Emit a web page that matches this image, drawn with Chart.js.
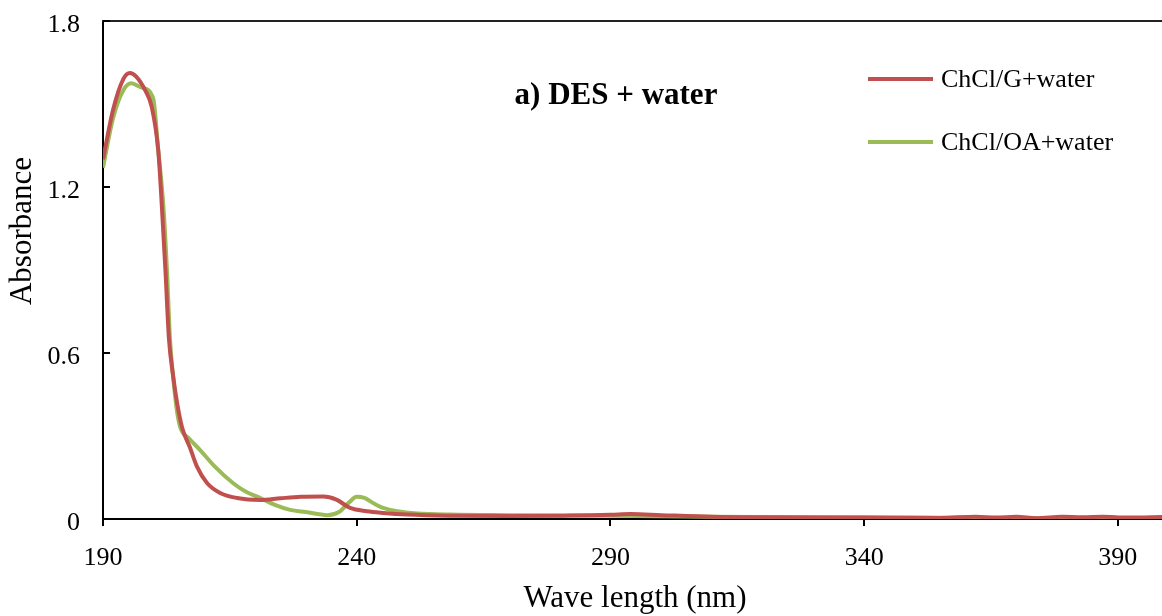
<!DOCTYPE html>
<html><head><meta charset="utf-8">
<script src="https://cdn.jsdelivr.net/npm/chart.js@4.4.1/dist/chart.umd.min.js"></script>
<style>html,body{margin:0;padding:0;background:#fff;overflow:hidden}#wrap{width:1162px;height:616px}</style>
</head><body><div id="wrap"><canvas id="c" width="1162" height="616"></canvas></div>
<script>
const seriesNames = ['ChCl/G+water', 'ChCl/OA+water'];
const chartTitle = 'a) DES + water';
const xTitle = 'Wave length (nm)';
const yTitle = 'Absorbance';
const xTicks = [190, 240, 290, 340, 390];
const yTicks = [0, 0.6, 1.2, 1.8];

const wlG = [190, 192, 194, 195.3, 196.5, 198.3, 199.6, 200.9, 201.6, 202.3, 203.0, 203.8, 204.6, 205.6, 207.1, 208.5, 210.5, 213, 216.4, 221, 225, 229, 233.4, 236, 238.7, 242, 245.2, 250, 258, 270, 280, 290, 294, 300, 310, 320, 340, 355, 362, 366, 370, 374, 379, 383, 387, 392, 399];
const absG = [1.30, 1.48, 1.59, 1.612, 1.60, 1.55, 1.49, 1.33, 1.13, 0.90, 0.65, 0.52, 0.42, 0.33, 0.26, 0.19, 0.13, 0.095, 0.076, 0.069, 0.075, 0.08, 0.081, 0.07, 0.04, 0.028, 0.022, 0.016, 0.012, 0.011, 0.012, 0.015, 0.018, 0.014, 0.008, 0.006, 0.005, 0.004, 0.008, 0.005, 0.008, 0.003, 0.008, 0.006, 0.008, 0.005, 0.007];

const wlOA = [190, 192, 194, 195.6, 197.5, 199.9, 200.8, 201.9, 202.6, 203.2, 203.9, 204.5, 205.2, 207, 209.1, 212, 215.6, 218, 221, 224, 226.9, 230, 234.2, 236.5, 238.5, 240, 241.5, 243.5, 245.2, 248, 252, 258.4, 270, 290, 310, 330, 350, 370, 399];
const absOA = [1.27, 1.45, 1.55, 1.575, 1.56, 1.52, 1.35, 1.13, 0.90, 0.65, 0.50, 0.40, 0.333, 0.29, 0.25, 0.19, 0.13, 0.10, 0.076, 0.05, 0.033, 0.025, 0.014, 0.025, 0.06, 0.08, 0.076, 0.055, 0.04, 0.028, 0.02, 0.016, 0.014, 0.012, 0.008, 0.006, 0.005, 0.004, 0.004];

const colors = ['#C0504D', '#9BBB59'];
const FONT = "'Liberation Serif', 'Times New Roman', serif";

const toPts = (xs, ys) => xs.map((x, i) => ({x: x, y: ys[i]}));

const decor = {
  id: 'decor',
  afterDraw(chart) {
    const ctx = chart.ctx, a = chart.chartArea, ys = chart.scales.y;
    ctx.save();
    ctx.strokeStyle = '#222'; ctx.lineWidth = 2;
    ctx.beginPath(); ctx.moveTo(a.left - 1, a.top); ctx.lineTo(a.right, a.top); ctx.stroke();
    ctx.strokeStyle = '#000';
    yTicks.forEach(v => {
      const p = Math.round(ys.getPixelForValue(v));
      ctx.beginPath(); ctx.moveTo(a.left, p); ctx.lineTo(a.left + 7, p); ctx.stroke();
    });
    ctx.fillStyle = '#000';
    ctx.font = 'bold 31px ' + FONT; ctx.textAlign = 'center'; ctx.textBaseline = 'middle';
    ctx.fillText(chartTitle, 616, 96);
    ctx.font = '31px ' + FONT;
    ctx.fillText(xTitle, 635, 599);
    ctx.save(); ctx.translate(23, 231); ctx.rotate(-Math.PI / 2); ctx.fillText(yTitle, 0, 0); ctx.restore();
    const ly = [79, 142];
    ctx.font = '26px ' + FONT; ctx.textAlign = 'left';
    seriesNames.forEach((n, i) => {
      ctx.strokeStyle = colors[i]; ctx.lineWidth = 4;
      ctx.beginPath(); ctx.moveTo(868, ly[i]); ctx.lineTo(933, ly[i]); ctx.stroke();
      ctx.fillText(n, 941, ly[i] + 1);
    });
    ctx.restore();
  }
};

new Chart(document.getElementById('c'), {
  type: 'line',
  data: {
    datasets: [
      {label: seriesNames[0], data: toPts(wlG, absG), borderColor: colors[0], borderWidth: 4, pointRadius: 0, cubicInterpolationMode: 'monotone', fill: false},
      {label: seriesNames[1], data: toPts(wlOA, absOA), borderColor: colors[1], borderWidth: 4, pointRadius: 0, cubicInterpolationMode: 'monotone', fill: false}
    ]
  },
  options: {
    responsive: false, animation: false, devicePixelRatio: 1,
    layout: {padding: {top: 21, left: 0, right: 0, bottom: 0}},
    plugins: {legend: {display: false}, tooltip: {enabled: false}, title: {display: false}},
    scales: {
      x: {
        type: 'linear', min: 190, max: 398.7,
        afterBuildTicks: s => { s.ticks = xTicks.map(v => ({value: v})); },
        afterFit: s => { s.height = 97; s.paddingLeft = 0; s.paddingRight = 0; },
        grid: {display: true, drawOnChartArea: false, drawTicks: true, tickLength: 7, color: '#000', lineWidth: 2},
        border: {display: true, color: '#000', width: 2},
        ticks: {padding: 17, color: '#000', font: {family: FONT, size: 26}, maxRotation: 0, autoSkip: false}
      },
      y: {
        type: 'linear', min: 0, max: 1.8,
        afterBuildTicks: s => { s.ticks = yTicks.map(v => ({value: v})); },
        afterFit: s => { s.width = 103; s.paddingTop = 0; s.paddingBottom = 0; },
        grid: {display: true, drawOnChartArea: false, drawTicks: false, tickLength: 0},
        border: {display: true, color: '#000', width: 2},
        ticks: {padding: 23, labelOffset: 4, color: '#000', font: {family: FONT, size: 26}, callback: v => v === 0 ? '0' : Number(v).toFixed(1)}
      }
    }
  },
  plugins: [decor]
});
</script></body></html>
